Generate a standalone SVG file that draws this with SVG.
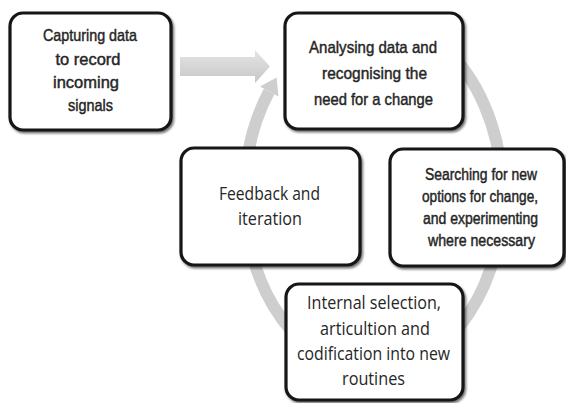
<svg xmlns="http://www.w3.org/2000/svg" width="566" height="403" viewBox="0 0 566 403">
  <defs>
    <filter id="shadow" x="-10%" y="-10%" width="125%" height="125%">
      <feDropShadow dx="1.5" dy="2" stdDeviation="1" flood-color="#000" flood-opacity="0.55"/>
    </filter>
    <linearGradient id="arrowGrad" x1="0" y1="0" x2="0" y2="1">
      <stop offset="0" stop-color="#e4e4e4"/>
      <stop offset="0.5" stop-color="#d6d6d6"/>
      <stop offset="1" stop-color="#c6c6c6"/>
    </linearGradient>
    <style>
      .box { fill: #ffffff; stroke: #141414; stroke-width: 3.2; filter: url(#shadow); }
      .t1 { font-family: "Liberation Sans Narrow", "Liberation Sans", Arial, sans-serif; font-size: 17px; fill: #262626; stroke: #262626; stroke-width: 0.45; text-anchor: middle; }
      .t3 { font-size: 16px; }
      .t2 { font-family: "Open Sans", "Noto Sans", sans-serif; font-size: 18.5px; fill: #262626; text-anchor: middle; }
      .ring { fill: none; stroke: #cecece; stroke-width: 12; }
      .head { fill: #cecece; }
    </style>
  </defs>

  <g id="connectors">
    <path class="ring" d="M 395.9 21.7 A 129 176 0 1 1 269.1 91.5"/>
    <polygon class="head" points="276.6,77.4 278.5,96.5 260,86.5"/>
    <polygon fill="url(#arrowGrad)" points="180,57 255,57 255,50 270,66.5 255,83 255,76 180,76"/>
  </g>

  <g id="node-capturing">
    <rect class="box" x="10" y="13" width="161" height="117" rx="13"/>
    <text class="t1" x="90" y="41" textLength="94" lengthAdjust="spacingAndGlyphs">Capturing data</text>
    <text class="t1" x="88" y="65" textLength="65" lengthAdjust="spacingAndGlyphs">to record</text>
    <text class="t1" x="86" y="88" textLength="66" lengthAdjust="spacingAndGlyphs">incoming</text>
    <text class="t1" x="90.5" y="111" textLength="45" lengthAdjust="spacingAndGlyphs">signals</text>
  </g>

  <g id="node-analysing">
    <rect class="box" x="285" y="13" width="178" height="116" rx="13"/>
    <text class="t1" x="373" y="53" textLength="128" lengthAdjust="spacingAndGlyphs">Analysing  data and</text>
    <text class="t1" x="374.5" y="79" textLength="105" lengthAdjust="spacingAndGlyphs">recognising the</text>
    <text class="t1" x="373.5" y="105" textLength="119" lengthAdjust="spacingAndGlyphs">need for a change</text>
  </g>

  <g id="node-searching">
    <rect class="box" x="390" y="149" width="174" height="117" rx="13"/>
    <text class="t1 t3" x="481" y="180" textLength="112" lengthAdjust="spacingAndGlyphs">Searching for new</text>
    <text class="t1 t3" x="480" y="202" textLength="116" lengthAdjust="spacingAndGlyphs">options for change,</text>
    <text class="t1 t3" x="480.5" y="224" textLength="115" lengthAdjust="spacingAndGlyphs">and experimenting</text>
    <text class="t1 t3" x="481.5" y="246" textLength="107" lengthAdjust="spacingAndGlyphs">where necessary</text>
  </g>

  <g id="node-feedback">
    <rect class="box" x="181" y="148" width="179" height="117" rx="13"/>
    <text class="t2" x="269.5" y="200" textLength="101" lengthAdjust="spacingAndGlyphs">Feedback and</text>
    <text class="t2" x="270" y="225" textLength="64" lengthAdjust="spacingAndGlyphs">iteration</text>
  </g>

  <g id="node-internal">
    <rect class="box" x="286" y="284" width="177" height="116" rx="13"/>
    <text class="t2" x="374" y="309" textLength="134" lengthAdjust="spacingAndGlyphs">Internal selection,</text>
    <text class="t2" x="375" y="335" textLength="110" lengthAdjust="spacingAndGlyphs">articultion and</text>
    <text class="t2" x="373.5" y="360" textLength="153" lengthAdjust="spacingAndGlyphs">codification into new</text>
    <text class="t2" x="373.5" y="385" textLength="63" lengthAdjust="spacingAndGlyphs">routines</text>
  </g>
</svg>
